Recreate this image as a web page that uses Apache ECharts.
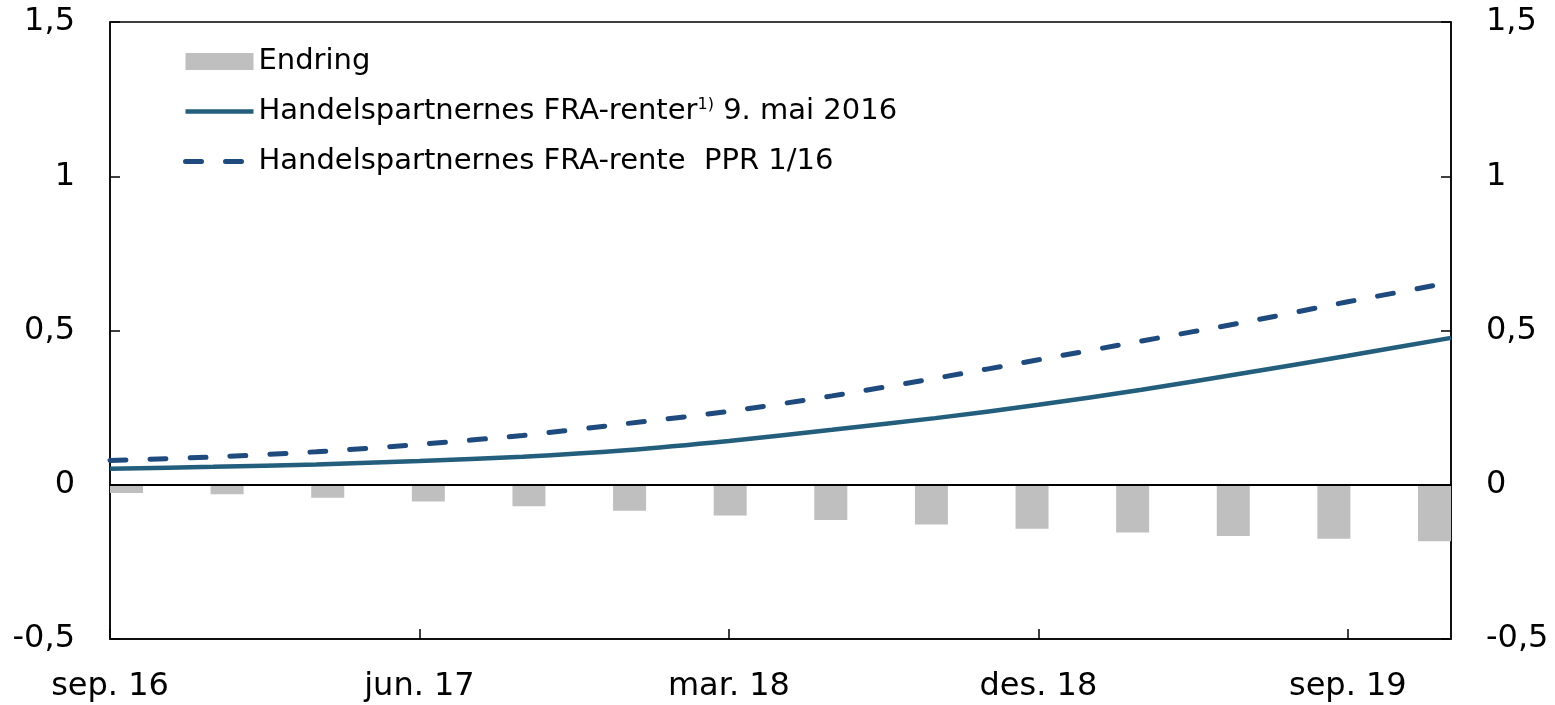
<!DOCTYPE html>
<html>
<head>
<meta charset="utf-8">
<script src="https://cdn.jsdelivr.net/npm/echarts@6/dist/echarts.min.js"></script>
<style>
  html, body { margin: 0; padding: 0; background: #fff; }
  #chart { width: 1555px; height: 705px; }
</style>
</head>
<body>
<div id="chart"></div>
<script>
// x axis: months counted from sep. 16
const xTickLabels = ['sep. 16', 'jun. 17', 'mar. 18', 'des. 18', 'sep. 19'];
const quarterMonths = [0, 3, 6, 9, 12, 15, 18, 21, 24, 27, 30, 33, 36, 39];

// Handelspartnernes FRA-renter 9. mai 2016
const fraMay = [0.052, 0.058, 0.066, 0.077, 0.091, 0.112, 0.142, 0.178, 0.216, 0.259, 0.308, 0.362, 0.418, 0.476];
// Handelspartnernes FRA-rente PPR 1/16
const fraPpr = [0.079, 0.090, 0.107, 0.131, 0.160, 0.198, 0.238, 0.288, 0.345, 0.405, 0.466, 0.527, 0.593, 0.656];
// Endring (one bar per quarter)
const change = [-0.027, -0.031, -0.042, -0.054, -0.070, -0.084, -0.100, -0.114, -0.129, -0.143, -0.155, -0.166, -0.175, -0.183];

const yTicks = { min: -0.5, max: 1.5, interval: 0.5 };

const names = {
  bar: 'Endring',
  may: 'Handelspartnernes FRA-renter 9. mai 2016',
  ppr: 'Handelspartnernes FRA-rente  PPR 1/16'
};

const font = 'DejaVu Sans, sans-serif';
const fmtY = v => String(v).replace('.', ',');

const chart = echarts.init(document.getElementById('chart'));

const yAxisBase = {
  type: 'value',
  min: yTicks.min,
  max: yTicks.max,
  interval: yTicks.interval,
  splitLine: { show: false },
  axisLine: { show: true, onZero: false, lineStyle: { color: '#000', width: 1.5 } },
  axisTick: { show: true, inside: true, length: 10, lineStyle: { color: '#000', width: 1.5 } },
  axisLabel: { formatter: fmtY, fontSize: 32, color: '#000', fontFamily: font, margin: 35 }
};

chart.setOption({
  animation: false,
  grid: {
    left: 110, right: 104, top: 22, bottom: 66,
    show: true, borderColor: '#000', borderWidth: 1.5
  },
  legend: {
    orient: 'vertical',
    left: 183,
    top: 47,
    padding: 0,
    itemWidth: 68,
    itemHeight: 17,
    itemGap: 21,
    lineStyle: { width: 'inherit' },
    data: [
      { name: names.bar, icon: 'rect' },
      // hide the marker dot that echarts puts on line icons
      { name: names.may, itemStyle: { opacity: 0 } },
      { name: names.ppr, itemStyle: { opacity: 0 } }
    ],
    textStyle: {
      fontSize: 29, color: '#000', fontFamily: font,
      rich: {
        a: { fontSize: 29, color: '#000', fontFamily: font },
        sup: { fontSize: 16, color: '#000', fontFamily: font, verticalAlign: 'top', padding: [0, 0, 12, 0] }
      }
    },
    formatter: name => name === names.may
      ? '{a|Handelspartnernes FRA-renter}{sup|1)}{a| 9. mai 2016}'
      : '{a|' + name + '}'
  },
  xAxis: [
    {
      type: 'value',
      min: 0,
      max: 39,
      interval: 9,
      splitLine: { show: false },
      axisLine: { onZero: false, lineStyle: { color: '#000', width: 1.5 } },
      axisTick: { show: true, inside: true, length: 10, lineStyle: { color: '#000', width: 1.5 } },
      axisLabel: {
        fontSize: 32, color: '#000', fontFamily: font, margin: 32,
        showMaxLabel: false,
        formatter: v => (v % 9 === 0 ? xTickLabels[v / 9] : '')
      }
    },
    {
      // hidden axis for the quarterly bars
      type: 'value',
      min: -0.164,
      max: 13.164,
      position: 'bottom',
      z: 10,
      splitLine: { show: false },
      axisLine: { show: true, onZero: true, lineStyle: { color: '#000', width: 2 } },
      axisTick: { show: false },
      axisLabel: { show: false }
    }
  ],
  yAxis: [
    Object.assign({}, yAxisBase, { position: 'left' }),
    Object.assign({}, yAxisBase, { position: 'right' })
  ],
  series: [
    {
      name: names.bar,
      type: 'bar',
      xAxisIndex: 1,
      barWidth: 33,
      itemStyle: { color: '#BFBFBF' },
      data: change.map((v, i) => [i, v])
    },
    {
      name: names.may,
      type: 'line',
      xAxisIndex: 0,
      symbol: 'none',
      smooth: 0.3,
      lineStyle: { color: '#235E7D', width: 4.5 },
      itemStyle: { color: '#235E7D' },
      data: fraMay.map((v, i) => [quarterMonths[i], v])
    },
    {
      name: names.ppr,
      type: 'line',
      xAxisIndex: 0,
      symbol: 'none',
      smooth: 0.3,
      lineStyle: { color: '#1F4A7E', width: 5, type: [16, 24], cap: 'round' },
      itemStyle: { color: '#1F4A7E' },
      data: fraPpr.map((v, i) => [quarterMonths[i], v])
    }
  ]
});
</script>
</body>
</html>
